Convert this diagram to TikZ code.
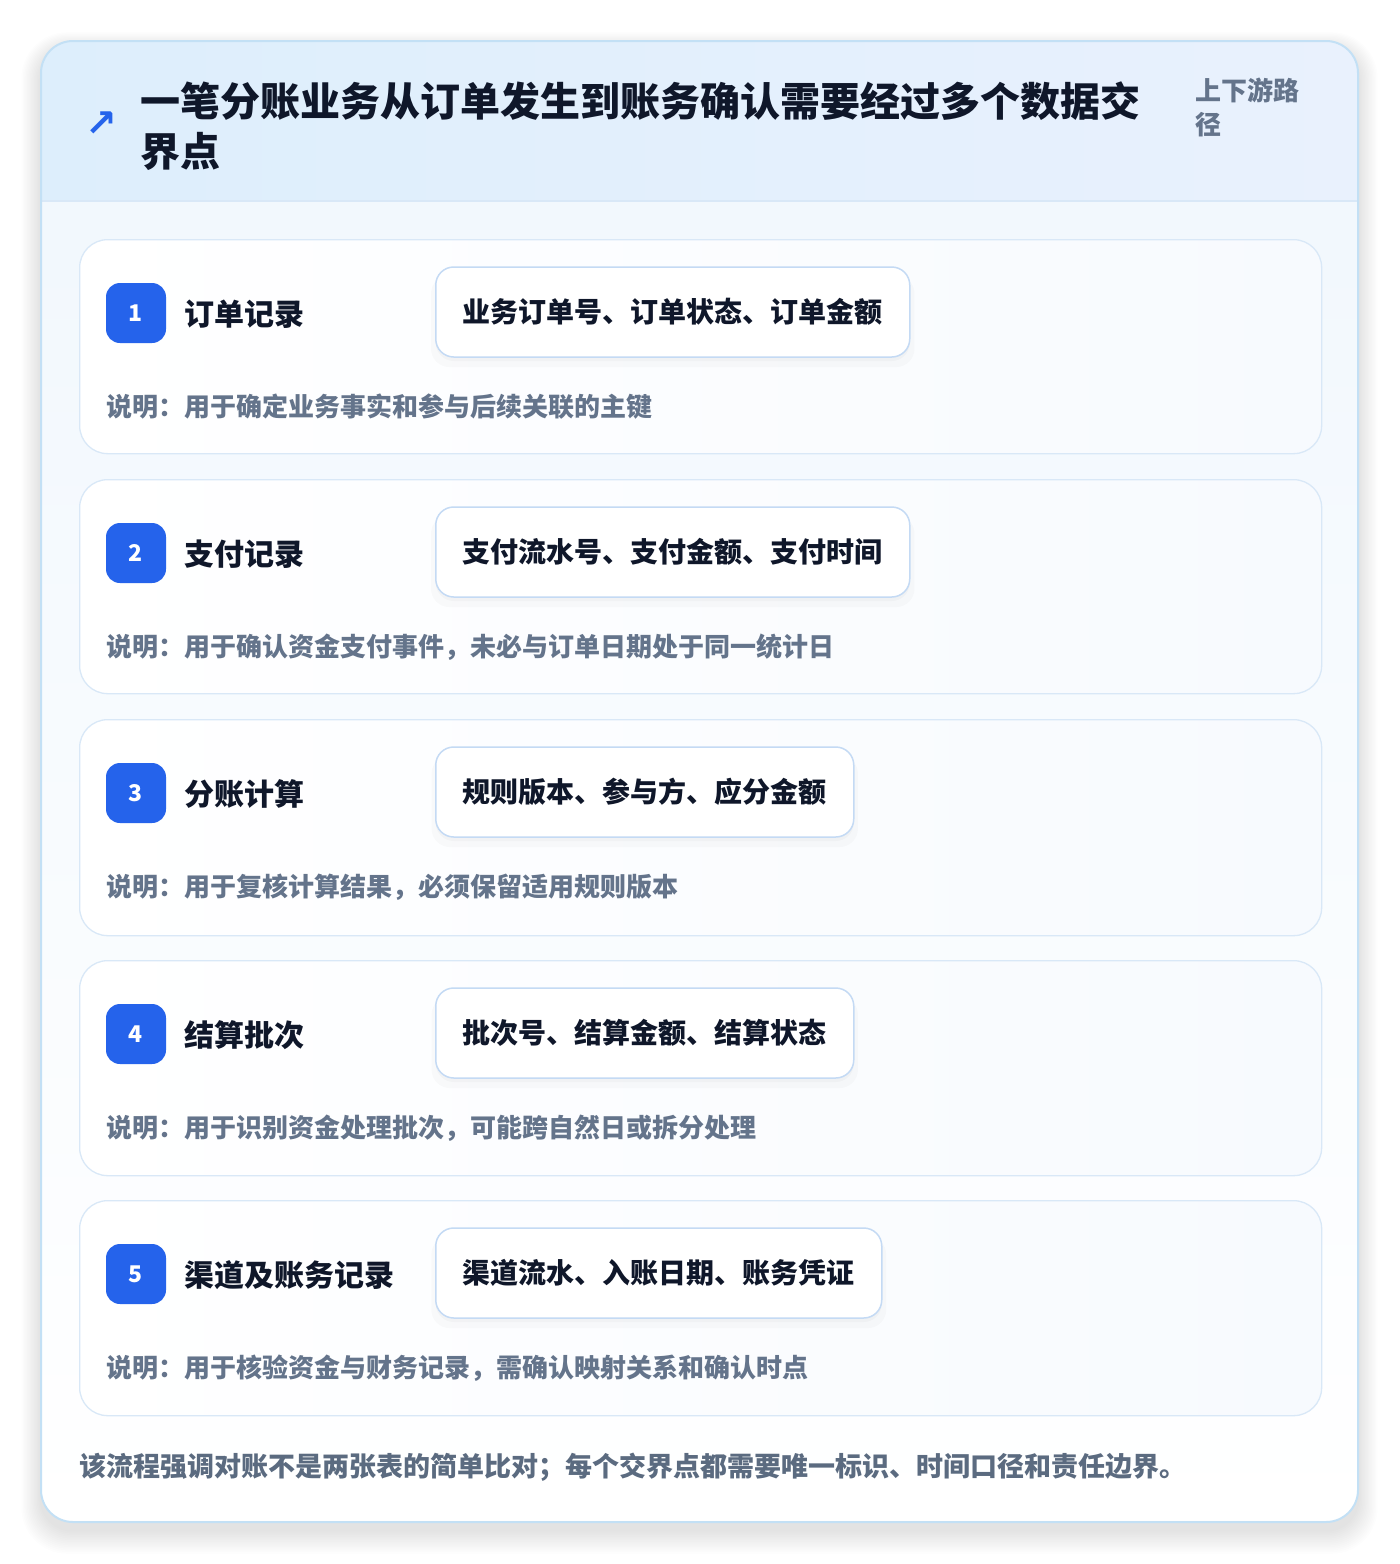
\documentclass[tikz,border=0pt]{standalone}
\usepackage{fontspec}
\setmainfont{Noto Sans CJK SC}
\newfontfamily\symfont{DejaVu Sans}
\usetikzlibrary{shadows}
\definecolor{bluemain}{HTML}{2563EB}
\definecolor{ink}{HTML}{0F172A}
\definecolor{muted}{HTML}{64748B}
\definecolor{footc}{HTML}{5B6B80}
\definecolor{outerline}{HTML}{C3E0F5}
\definecolor{cardline}{HTML}{D9E8F7}
\definecolor{fieldline}{HTML}{C4DAF4}
\definecolor{headL}{HTML}{DDEEFC}
\definecolor{headR}{HTML}{E9F1FD}
\definecolor{bodyTop}{HTML}{F0F7FD}
\definecolor{cardR}{HTML}{F7FAFE}
\tikzset{
  stepcard/.style={draw=cardline, line width=1.3pt, rounded corners=28pt, left color=white, right color=cardR, minimum width=1242pt, inner sep=0pt, anchor=north west},
  badge/.style={fill=bluemain, rounded corners=14pt, minimum size=60pt, inner sep=0pt, text=white, font=\bfseries\fontsize{23}{24}\selectfont},
  steptitle/.style={anchor=west, inner sep=0pt, text=ink, font=\bfseries\fontsize{30}{34}\selectfont},
  fieldbox/.style={draw=fieldline, line width=1.5pt, fill=white, rounded corners=18pt, minimum height=90pt, inner xsep=27pt, inner ysep=0pt, anchor=west, text=ink, font=\bfseries\fontsize{28}{32}\selectfont,
    drop shadow={opacity=0.02, shadow xshift=0pt, shadow yshift=-9pt, shadow scale=1.02, fill=black},
    drop shadow={opacity=0.025, shadow xshift=0pt, shadow yshift=-4pt, fill=black}},
  desc/.style={anchor=west, inner sep=0pt, text=muted, font=\bfseries\fontsize{26}{30}\selectfont},
}
\begin{document}
\begin{tikzpicture}[x=1pt,y=-1pt]
\useasboundingbox (0,0) rectangle (1400,1564);
\fill[white] (0,0) rectangle (1400,1564);
% outer shadow
\foreach \i in {1,...,14}{
  \fill[black, opacity=0.007, rounded corners=32pt+\i pt] (41-\i*1.4, 49-\i*1.2) rectangle (1358+\i*1.4, 1530+\i*1.7);
}
% outer card
\path[rounded corners=32pt, top color=bodyTop, bottom color=white] (41,41) rectangle (1358,1522);
\begin{scope}
  \clip[rounded corners=32pt] (41,41) rectangle (1358,1522);
  \path[left color=headL, right color=headR] (41,41) rectangle (1358,201);
  \draw[draw=cardline, line width=1.5pt] (41,201) -- (1358,201);
\end{scope}
\draw[draw=outerline, line width=2pt, rounded corners=32pt] (41,41) rectangle (1358,1522);

% header
\node[inner sep=0pt, text=bluemain, font=\symfont\bfseries\fontsize{38}{38}\selectfont] (icon) at (101,124) {↗};
\node[anchor=west, inner sep=0pt, align=left, text=ink, font=\bfseries\fontsize{40}{50}\selectfont] (title) at (140,126) {一笔分账业务从订单发生到账务确认需要经过多个数据交\\界点};
\node[anchor=west, inner sep=0pt, align=left, text=muted, font=\bfseries\fontsize{26}{34}\selectfont] (tag) at (1195,107) {上下游路\\径};

% steps
\foreach \n/\top/\h/\name/\fields/\note in {
  1/239/214/订单记录/{业务订单号、订单状态、订单金额}/{说明：用于确定业务事实和参与后续关联的主键},
  2/479/214/支付记录/{支付流水号、支付金额、支付时间}/{说明：用于确认资金支付事件，未必与订单日期处于同一统计日},
  3/719/216/分账计算/{规则版本、参与方、应分金额}/{说明：用于复核计算结果，必须保留适用规则版本},
  4/960/215/结算批次/{批次号、结算金额、结算状态}/{说明：用于识别资金处理批次，可能跨自然日或拆分处理},
  5/1200/215/渠道及账务记录/{渠道流水、入账日期、账务凭证}/{说明：用于核验资金与财务记录，需确认映射关系和确认时点}}{
  \node[stepcard, minimum height=\h pt] (card\n) at (79,\top) {};
  \node[badge] (badge\n) at (136,\top+74) {\n};
  \node[steptitle] (name\n) at (184,\top+75) {\name};
  \node[fieldbox] (field\n) at (435,\top+73) {\fields};
  \node[desc] (note\n) at (106,\top+168) {\note};
}

% footer
\node[anchor=west, inner sep=0pt, text=footc, font=\bfseries\fontsize{27}{30}\selectfont] (foot) at (79,1467) {该流程强调对账不是两张表的简单比对；每个交界点都需要唯一标识、时间口径和责任边界。};
\end{tikzpicture}
\end{document}
